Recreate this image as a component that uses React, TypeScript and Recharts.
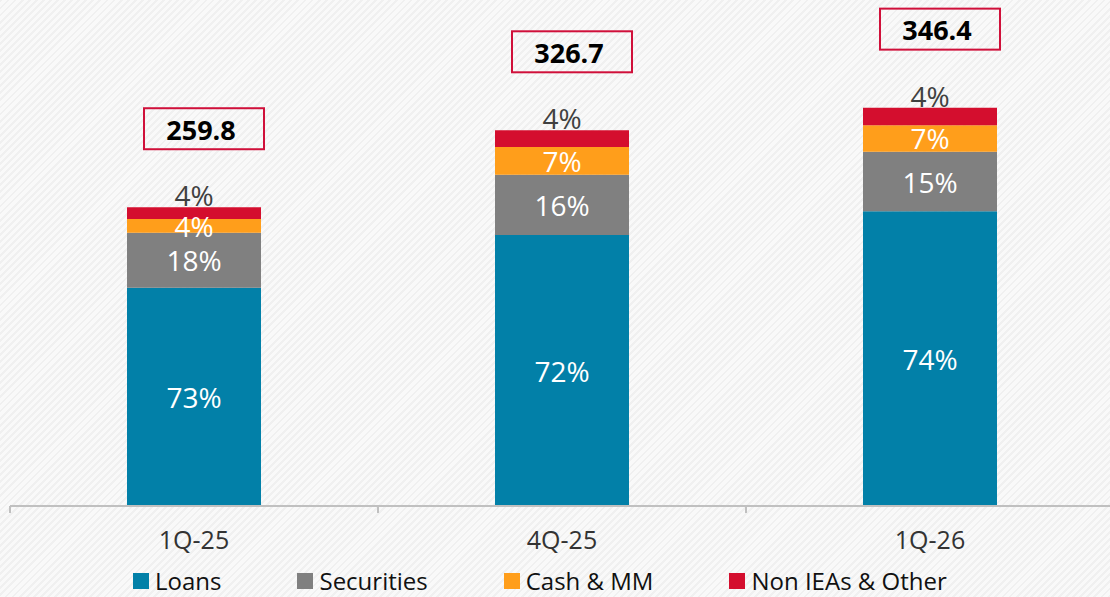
import { BarChart, Bar, XAxis, YAxis, LabelList } from "recharts";

const categories = ["1Q-25", "4Q-25", "1Q-26"];
const loans = [189.8, 235.6, 256.2];
const securities = [47.9, 52.5, 51.9];
const cashMM = [11.9, 24.0, 23.0];
const nonIEAs = [10.2, 14.6, 15.3];
const totals = ["259.8", "326.7", "346.4"];
const loansPct = ["73%", "72%", "74%"];
const securitiesPct = ["18%", "16%", "15%"];
const cashPct = ["4%", "7%", "7%"];
const nonIEAsPct = ["4%", "4%", "4%"];

const legendItems = [
  { name: "Loans", color: "#0280a8" },
  { name: "Securities", color: "#808080" },
  { name: "Cash & MM", color: "#ff9e1b" },
  { name: "Non IEAs & Other", color: "#d40e2e" },
];

const data = categories.map((name, i) => ({
  name,
  loans: loans[i],
  securities: securities[i],
  cash: cashMM[i],
  other: nonIEAs[i],
}));

const font = "'Open Sans', 'Noto Sans', sans-serif";
const axisColor = "#c0c0c0";

const inside = (labels: string[]) => (p: any) => {
  const { x, y, width, height, index } = p;
  return (
    <text
      x={x + width / 2}
      y={y + height / 2}
      textAnchor="middle"
      dominantBaseline="central"
      fill="#fff"
      fontSize={28}
      fontFamily={font}
    >
      {labels[index]}
    </text>
  );
};

const above = (p: any) => {
  const { x, y, width, index } = p;
  return (
    <text
      x={x + width / 2}
      y={y - 12}
      textAnchor="middle"
      dominantBaseline="central"
      fill="#404040"
      fontSize={28}
      fontFamily={font}
    >
      {nonIEAsPct[index]}
    </text>
  );
};

const totalBox = (p: any) => {
  const { x, y, width, index } = p;
  const cx = x + width / 2 + 10;
  const top = y - 99;
  return (
    <g>
      <rect x={cx - 60} y={top} width={120} height={41} fill="none" stroke="#d0103a" strokeWidth={2} />
      <text
        x={cx - 3}
        y={top + 21}
        textAnchor="middle"
        dominantBaseline="central"
        fill="#000"
        fontSize={27}
        fontWeight={700}
        fontFamily={font}
      >
        {totals[index]}
      </text>
    </g>
  );
};

// category label plus tick marks on the band boundaries
const CatTick = (p: any) => {
  const { x, y, payload, index, width, visibleTicksCount } = p;
  const band = width / (visibleTicksCount || categories.length);
  const last = index === (visibleTicksCount || categories.length) - 1;
  return (
    <g>
      <line x1={x - band / 2} x2={x - band / 2} y1={y} y2={y + 7} stroke={axisColor} strokeWidth={2} />
      {last && (
        <line x1={x + band / 2} x2={x + band / 2} y1={y} y2={y + 7} stroke={axisColor} strokeWidth={2} />
      )}
      <text
        x={x}
        y={y + 33}
        textAnchor="middle"
        dominantBaseline="central"
        fill="#333"
        fontSize={25}
        fontFamily={font}
      >
        {payload.value}
      </text>
    </g>
  );
};

export default function App() {
  return (
    <div
      style={{
        position: "absolute",
        top: 0,
        left: 0,
        width: 1110,
        height: 597,
        overflow: "hidden",
        backgroundColor: "#f4f4f4",
        backgroundImage:
          "repeating-linear-gradient(135deg, #f0f0f0 0px, #f0f0f0 2px, #f9f9f9 2px, #f9f9f9 5px)",
        fontFamily: font,
      }}
    >
      <BarChart
        width={1114}
        height={597}
        data={data}
        margin={{ top: 0, right: 0, left: 10, bottom: 0 }}
      >
        <XAxis
          dataKey="name"
          height={91}
          axisLine={{ stroke: axisColor, strokeWidth: 2 }}
          tickLine={false}
          tickSize={0}
          tickMargin={0}
          tick={<CatTick />}
        />
        <YAxis hide domain={[0, 440]} />
        <Bar dataKey="loans" stackId="a" fill="#0280a8" barSize={134} isAnimationActive={false}>
          <LabelList content={inside(loansPct)} />
        </Bar>
        <Bar dataKey="securities" stackId="a" fill="#808080" barSize={134} isAnimationActive={false}>
          <LabelList content={inside(securitiesPct)} />
        </Bar>
        <Bar dataKey="cash" stackId="a" fill="#ff9e1b" barSize={134} isAnimationActive={false}>
          <LabelList content={inside(cashPct)} />
        </Bar>
        <Bar dataKey="other" stackId="a" fill="#d40e2e" barSize={134} isAnimationActive={false}>
          <LabelList content={above} />
          <LabelList content={totalBox} />
        </Bar>
      </BarChart>
      <div
        style={{
          position: "absolute",
          left: 133,
          top: 564,
          display: "flex",
          alignItems: "center",
          fontSize: 24,
          color: "#111",
          whiteSpace: "nowrap",
        }}
      >
        {legendItems.map((it) => (
          <div key={it.name} style={{ display: "flex", alignItems: "center", marginRight: 76 }}>
            <span style={{ width: 16, height: 16, background: it.color, marginRight: 6, display: "inline-block" }} />
            <span>{it.name}</span>
          </div>
        ))}
      </div>
    </div>
  );
}
